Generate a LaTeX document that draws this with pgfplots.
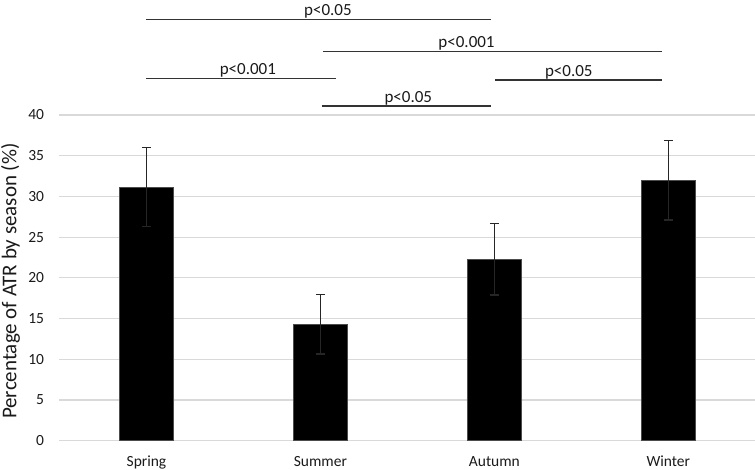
\documentclass[border=0pt]{standalone}
\usepackage{pgfplots}
\pgfplotsset{compat=1.18}
\usepackage{fontspec}
\setmainfont{Carlito}
\definecolor{gridc}{HTML}{D9D9D9}
\definecolor{txt}{HTML}{1A1A1A}
\definecolor{errc}{HTML}{262626}
\definecolor{sigc}{HTML}{333333}
\pgfplotstableread{
x y e
0 31.15 4.85
1 14.30 3.65
2 22.30 4.40
3 32.00 4.90
}\seasons
\begin{document}
\begin{tikzpicture}[x=1pt,y=1pt]
\begin{axis}[
  scale only axis, width=695.8pt, height=325.7pt,
  xmin=-0.5, xmax=3.5, ymin=0, ymax=40,
  xtick={0,1,2,3}, xticklabels={Spring,Summer,Autumn,Winter},
  ytick={0,5,...,40},
  ymajorgrids, grid style={draw=gridc, line width=1.2pt},
  axis line style={draw=none},
  tick style={draw=none},
  clip=false,
  /pgf/number format/assume math mode=true,
  ticklabel style={font=\fontsize{15.5}{18}\selectfont, text=txt},
  yticklabel style={anchor=east, xshift=-12pt},
  xticklabel style={anchor=north, yshift=-12pt},
  ylabel={Percentage of ATR by season (\%)},
  ylabel style={at={(axis description cs:-0.0704,0.49)}, anchor=center, font=\fontsize{21}{24}\selectfont, text=txt},
]
\addplot[ybar, bar width=54.4pt, fill=black, draw=black!70,
  error bars/.cd, y dir=both, y explicit,
  error bar style={line width=1.2pt, color=errc},
  error mark options={rotate=90, line width=1.2pt, mark size=4.5pt, color=errc}]
  table[x=x, y=y, y error=e]{\seasons};
% significance brackets
\draw[line width=1.2pt, sigc] (axis cs:0,51.75) -- (axis cs:1.978,51.75);
\draw[line width=1.2pt, sigc] (axis cs:1.016,47.82) -- (axis cs:2.961,47.82);
\draw[line width=1.2pt, sigc] (axis cs:0,44.46) -- (axis cs:1.089,44.46);
\draw[line width=1.2pt, sigc] (axis cs:2.005,44.3) -- (axis cs:2.961,44.3);
\draw[line width=1.2pt, sigc] (axis cs:1.007,41.1) -- (axis cs:1.978,41.1);
\begin{scope}[every node/.style={anchor=base, inner sep=0pt, font=\fontsize{17}{20}\selectfont, text=txt}]
\node at ([yshift=3.7pt]axis cs:1.043,51.75) {p<0.05};
\node at ([yshift=3.7pt]axis cs:1.84,47.82) {p<0.001};
\node at ([yshift=3.7pt]axis cs:0.583,44.46) {p<0.001};
\node at ([yshift=3.7pt]axis cs:2.428,44.3) {p<0.05};
\node at ([yshift=3.7pt]axis cs:1.505,41.1) {p<0.05};
\end{scope}
\end{axis}
\pgfresetboundingbox
\path (current axis.south west) ++(-59.5,-29.3) rectangle ++(755,470);
\end{tikzpicture}
\end{document}
